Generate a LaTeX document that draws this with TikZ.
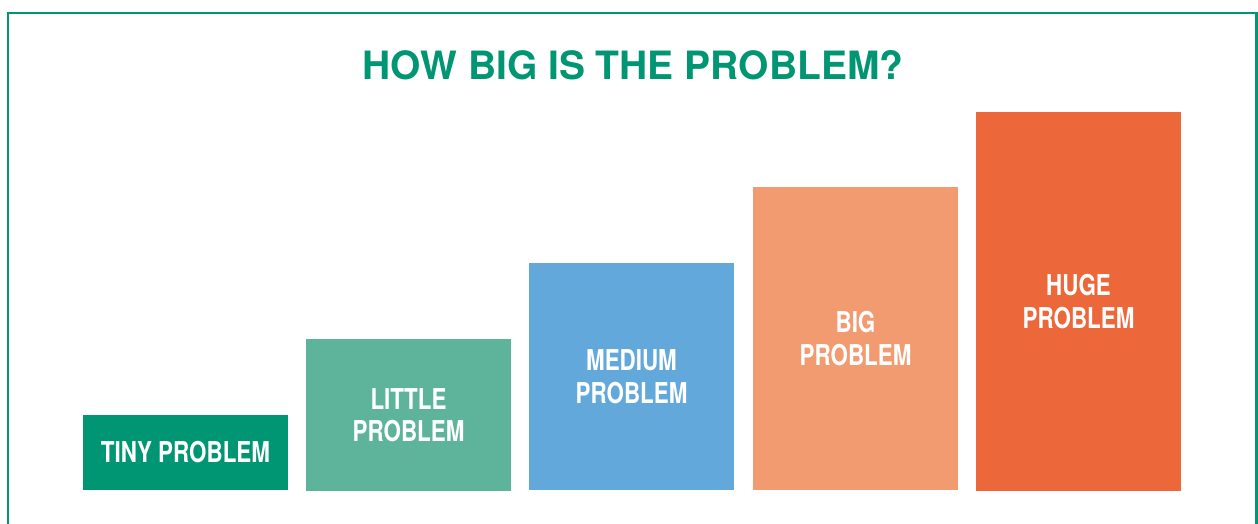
\documentclass[tikz,border=0pt]{standalone}
\usepackage{fontspec}
\setmainfont{TeX Gyre Heros}
\newfontfamily\condfont[FakeStretch=0.78]{TeX Gyre Heros}
\definecolor{tgreen}{HTML}{009673}
\definecolor{lgreen}{HTML}{5EB49B}
\definecolor{mblue}{HTML}{62A8DA}
\definecolor{bsalmon}{HTML}{F29A70}
\definecolor{horange}{HTML}{EC673A}
\begin{document}
\begin{tikzpicture}[x=1pt,y=-1pt,
  box/.style={anchor=south west, minimum width=205pt, inner sep=0pt, outer sep=0pt,
    text=white, align=center, font=\condfont\bfseries\fontsize{28.7}{32.5}\selectfont}]
\useasboundingbox (0,0) rectangle (1258,524);
\draw[tgreen, line width=2.5pt] (8,540) -- (8,13) -- (1256.5,13) -- (1256.5,540);
\node[text=tgreen, font=\bfseries\fontsize{39}{44}\selectfont, anchor=base] (title) at (633,80) {HOW BIG IS THE PROBLEM?};
\node[box, fill=tgreen, minimum height=75pt] (tiny) at (83,489.5) {TINY PROBLEM};
\node[box, fill=lgreen, minimum height=152pt] (little) at (306,491) {LITTLE\\PROBLEM};
\node[box, fill=mblue, minimum height=227pt] (medium) at (529,490) {MEDIUM\\PROBLEM};
\node[box, fill=bsalmon, minimum height=303pt] (big) at (753,490) {BIG\\PROBLEM};
\node[box, fill=horange, minimum height=379pt] (huge) at (976,491) {HUGE\\PROBLEM};
\end{tikzpicture}
\end{document}
